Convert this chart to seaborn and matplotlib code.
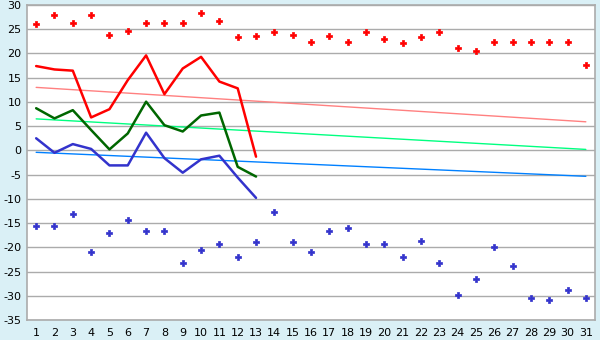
import numpy as np
import pandas as pd
import matplotlib
matplotlib.use("Agg")
import matplotlib.pyplot as plt
import seaborn as sns

days = list(range(1, 32))
record_max = [26.0, 27.9, 26.2, 27.9, 23.9, 24.6, 26.2, 26.2, 26.2, 28.3, 26.6,
              23.3, 23.6, 24.4, 23.9, 22.3, 23.6, 22.3, 24.4, 22.9, 22.1, 23.3,
              24.4, 21.1, 20.6, 22.3, 22.3, 22.3, 22.3, 22.3, 17.7]
record_min = [-15.5, -15.5, -13.2, -21.0, -17.1, -14.4, -16.7, -16.7, -23.3, -20.6,
              -19.4, -22.1, -19.0, -12.8, -19.0, -21.0, -16.7, -16.1, -19.4, -19.4,
              -22.1, -18.8, -23.3, -29.9, -26.6, -20.0, -23.9, -30.5, -30.9, -28.9, -30.5]
obs_days = list(range(1, 14))
max_temp = [17.4, 16.7, 16.45, 6.8, 8.5, 14.5, 19.6, 11.6, 16.9, 19.3, 14.2, 12.8, -1.3]
mean_temp = [8.7, 6.6, 8.3, 4.2, 0.2, 3.5, 10.05, 5.2, 3.9, 7.2, 7.8, -3.4, -5.4]
min_temp = [2.5, -0.5, 1.3, 0.3, -3.1, -3.1, 3.65, -1.6, -4.6, -1.85, -1.1, -5.6, -9.8]
trend_days = [1, 31]
trend_max = [13.0, 5.9]
trend_mean = [6.5, 0.2]
trend_min = [-0.4, -5.35]
y_ticks = list(range(-35, 31, 5))

sns.set_theme(style="white")
plt.rcParams['font.family'] = ['DejaVu Sans']
plt.rcParams['axes.unicode_minus'] = False

fig = plt.figure(figsize=(6, 3.4), dpi=100, facecolor="#DAF0F6")
ax = fig.add_axes([27/600, 1-320/340, (595-27)/600, (320-5)/340])
ax.set_facecolor("white")

for y in y_ticks:
    ax.axhline(y, color="#ABABAB", lw=1.0, zorder=0)

df_tr = pd.DataFrame({"day": trend_days, "mx": trend_max, "mn": trend_mean, "lo": trend_min})
sns.lineplot(data=df_tr, x="day", y="mx", color="#FF8080", lw=1.0, ax=ax)
sns.lineplot(data=df_tr, x="day", y="mn", color="#00FF80", lw=1.0, ax=ax)
sns.lineplot(data=df_tr, x="day", y="lo", color="#0080FF", lw=1.0, ax=ax)

df_obs = pd.DataFrame({"day": obs_days, "mx": max_temp, "mn": mean_temp, "lo": min_temp})
sns.lineplot(data=df_obs, x="day", y="mx", color="#FF0000", lw=1.8, ax=ax)
sns.lineplot(data=df_obs, x="day", y="mn", color="#006600", lw=1.8, ax=ax)
sns.lineplot(data=df_obs, x="day", y="lo", color="#3333CC", lw=1.8, ax=ax)

df_rec = pd.DataFrame({"day": days, "rmax": record_max, "rmin": record_min})
sns.scatterplot(data=df_rec, x="day", y="rmax", color="#FF0000", marker="P", s=20,
                edgecolor="#FF0000", linewidth=0.5, ax=ax, zorder=5)
sns.scatterplot(data=df_rec, x="day", y="rmin", color="#3333CC", marker="P", s=20,
                edgecolor="#3333CC", linewidth=0.5, ax=ax, zorder=5)

ax.set_xlim(0.5, 31.5)
ax.set_ylim(-35, 30)
ax.set_xticks(days)
ax.set_xticklabels([str(d) for d in days])
ax.set_yticks(y_ticks)
ax.set_yticklabels([str(v) for v in y_ticks])
ax.set_xlabel("")
ax.set_ylabel("")
ax.tick_params(axis="both", labelsize=8, colors="#000000", width=1,
               direction="out")
ax.tick_params(axis="x", length=4, pad=1.5)
ax.tick_params(axis="y", length=3, pad=1)
for s in ax.spines.values():
    s.set_color("#ABABAB")
    s.set_linewidth(1.2)
sns.despine(ax=ax, top=False, right=False)

fig.savefig("out.png", dpi=100, facecolor=fig.get_facecolor())
